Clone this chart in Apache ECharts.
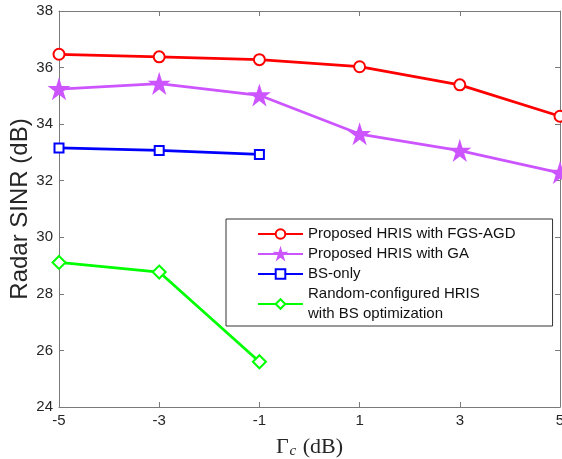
<!DOCTYPE html>
<html>
<head>
<meta charset="utf-8">
<script src="https://cdn.jsdelivr.net/npm/echarts@6/dist/echarts.min.js"></script>
<style>
html, body { margin: 0; padding: 0; background: #fff; }
#main { width: 562px; height: 459px; }
</style>
</head>
<body>
<div id="main"></div>
<script>
// x categories (Gamma_c in dB)
var gammaC = ['-5', '-3', '-1', '1', '3', '5']
var yTicks = [24, 26, 28, 30, 32, 34, 36, 38]

var fgsAgd = [36.47, 36.38, 36.28, 36.03, 35.39, 34.28]
var withGa = [35.24, 35.43, 35.02, 33.65, 33.06, 32.28]
var bsOnly = [33.16, 33.07, 32.93]
var randomHris = [29.11, 28.77, 25.6]

var starPath = 'path://M50 0 L61.17 34.63 L97.55 34.55 L68.07 55.87 L79.39 90.45 L50 69 L20.61 90.45 L31.93 55.87 L2.45 34.55 L38.83 34.63 Z'

var axisGray = '#7a7a7a'
var labelColor = '#262626'
var sansFont = 'Liberation Sans, Arial, sans-serif'

var chart = echarts.init(document.getElementById('main'), null, { renderer: 'canvas' })

function mkSeries(name, data, color, symbol, size) {
  return {
    name: name,
    type: 'line',
    data: data,
    symbol: symbol,
    symbolSize: size,
    showAllSymbol: true,
    lineStyle: { color: color, width: 2.8 },
    itemStyle: { color: color, borderColor: color, borderWidth: 2 },
    emphasis: { disabled: true },
    z: 3
  }
}

var option = {
  animation: false,
  backgroundColor: '#fff',
  textStyle: { fontFamily: sansFont },
  grid: { left: 59, right: 2, top: 11, bottom: 52, containLabel: false, outerBoundsMode: 'none' },
  legend: {
    orient: 'vertical',
    left: 226,
    top: 219,
    padding: [5, 37, 2, 31],
    itemGap: 0,
    itemWidth: 45,
    itemHeight: 12,
    backgroundColor: '#fff',
    borderColor: '#333',
    borderWidth: 1,
    textStyle: { fontSize: 15, color: '#111', lineHeight: 20, fontFamily: sansFont },
    data: ['Proposed HRIS with FGS-AGD', 'Proposed HRIS with GA', 'BS-only', 'Random-configured HRIS\nwith BS optimization']
  },
  xAxis: [{
    type: 'category',
    data: gammaC,
    boundaryGap: false,
    name: '{g|Γ}{c|c}{g| (dB)}',
    nameLocation: 'middle',
    nameGap: 28,
    nameMoveOverlap: false,
    nameTextStyle: {
      rich: {
        g: { fontFamily: 'Liberation Serif, serif', fontSize: 22, color: labelColor },
        c: { fontFamily: 'Liberation Serif, serif', fontStyle: 'italic', fontSize: 15, color: labelColor, padding: [9, 1, 0, 1] }
      }
    },
    axisLine: { lineStyle: { color: axisGray, width: 1 } },
    axisTick: { inside: true, length: 5, lineStyle: { color: axisGray } },
    axisLabel: { color: labelColor, fontSize: 15, margin: 6 },
    splitLine: { show: false }
  }, {
    type: 'category',
    data: gammaC,
    boundaryGap: false,
    position: 'top',
    axisLine: { lineStyle: { color: axisGray, width: 1 } },
    axisTick: { inside: true, length: 5, lineStyle: { color: axisGray } },
    axisLabel: { show: false },
    splitLine: { show: false }
  }],
  yAxis: [{
    type: 'value',
    min: yTicks[0],
    max: yTicks[yTicks.length - 1],
    interval: 2,
    name: 'Radar SINR (dB)',
    nameLocation: 'middle',
    nameGap: 27,
    nameMoveOverlap: false,
    nameTextStyle: { fontSize: 24, color: labelColor, fontFamily: sansFont },
    axisLine: { show: true, lineStyle: { color: axisGray, width: 1 } },
    axisTick: { show: true, inside: true, length: 5, lineStyle: { color: axisGray } },
    axisLabel: { color: labelColor, fontSize: 15, margin: 6 },
    splitLine: { show: false }
  }, {
    type: 'value',
    min: yTicks[0],
    max: yTicks[yTicks.length - 1],
    interval: 2,
    position: 'right',
    axisLine: { show: true, lineStyle: { color: axisGray, width: 1 } },
    axisTick: { show: true, inside: true, length: 5, lineStyle: { color: axisGray } },
    axisLabel: { show: false },
    splitLine: { show: false }
  }],
  series: [
    mkSeries('Proposed HRIS with FGS-AGD', fgsAgd, '#ff0000', 'emptyCircle', 11),
    mkSeries('Proposed HRIS with GA', withGa, '#cc55ff', starPath, 17),
    mkSeries('BS-only', bsOnly, '#0000ff', 'emptyRect', 9),
    mkSeries('Random-configured HRIS\nwith BS optimization', randomHris, '#00ff00', 'emptyDiamond', 13)
  ]
}

chart.setOption(option)
</script>
</body>
</html>
